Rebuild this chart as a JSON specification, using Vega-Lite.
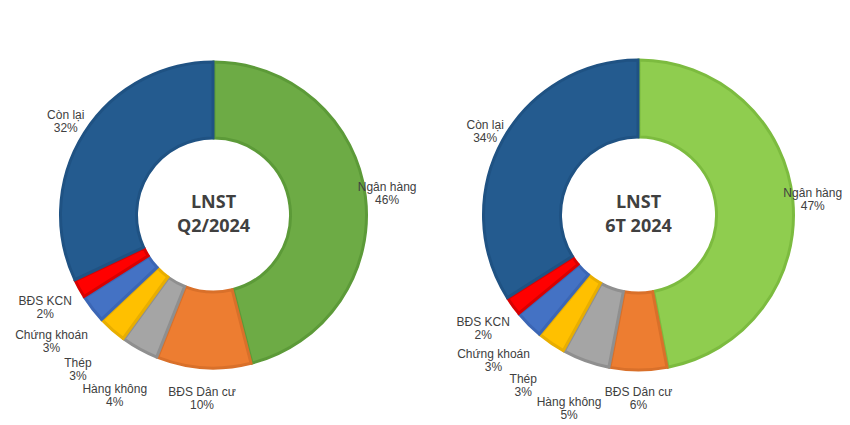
{
  "$schema": "https://vega.github.io/schema/vega-lite/v6.json",
  "padding": {"left": 1, "top": 7, "right": 0, "bottom": 0},
  "background": "white",
  "spacing": 0,
  "bounds": "flush",
  "config": {"view": {"stroke": null}},
  "resolve": {"scale": {"color": "independent", "stroke": "independent", "theta": "independent"}},
  "datasets": {
    "shares": [
      {"period": "Q2/2024", "idx": 1, "sector": "Ngân hàng", "value": 46},
      {"period": "Q2/2024", "idx": 2, "sector": "BĐS Dân cư", "value": 10},
      {"period": "Q2/2024", "idx": 3, "sector": "Hàng không", "value": 4},
      {"period": "Q2/2024", "idx": 4, "sector": "Thép", "value": 3},
      {"period": "Q2/2024", "idx": 5, "sector": "Chứng khoán", "value": 3},
      {"period": "Q2/2024", "idx": 6, "sector": "BĐS KCN", "value": 2},
      {"period": "Q2/2024", "idx": 7, "sector": "Còn lại", "value": 32},
      {"period": "6T 2024", "idx": 1, "sector": "Ngân hàng", "value": 47},
      {"period": "6T 2024", "idx": 2, "sector": "BĐS Dân cư", "value": 6},
      {"period": "6T 2024", "idx": 3, "sector": "Hàng không", "value": 5},
      {"period": "6T 2024", "idx": 4, "sector": "Thép", "value": 3},
      {"period": "6T 2024", "idx": 5, "sector": "Chứng khoán", "value": 3},
      {"period": "6T 2024", "idx": 6, "sector": "BĐS KCN", "value": 2},
      {"period": "6T 2024", "idx": 7, "sector": "Còn lại", "value": 34}
    ]
  },
  "hconcat": [
    {
      "width": 425,
      "height": 416,
      "data": {"name": "shares"},
      "transform": [
        {"filter": "datum.period === 'Q2/2024'"},
        {"calculate": "[datum.sector, datum.value + '%']", "as": "lbl"}
      ],
      "layer": [
        {
          "mark": {"type": "arc", "radius": 153, "innerRadius": 77, "strokeWidth": 3, "padAngle": 0.006},
          "encoding": {
            "theta": {"field": "value", "type": "quantitative", "stack": true},
            "order": {"field": "idx", "type": "quantitative"},
            "color": {"field": "sector", "type": "nominal", "legend": null,
              "scale": {"domain": ["Ngân hàng", "BĐS Dân cư", "Hàng không", "Thép", "Chứng khoán", "BĐS KCN", "Còn lại"],
                        "range": ["#6DAB45", "#ED7D31", "#A5A5A5", "#FFC000", "#4472C4", "#FF0000", "#245B8F"]}},
            "stroke": {"field": "sector", "type": "nominal", "legend": null,
              "scale": {"domain": ["Ngân hàng", "BĐS Dân cư", "Hàng không", "Thép", "Chứng khoán", "BĐS KCN", "Còn lại"],
                        "range": ["#5C9A38", "#D9702A", "#8F8F8F", "#E8AE00", "#3B66B5", "#D80000", "#1F5283"]}}
          }
        },
        {
          "mark": {"type": "text", "radius": {"expr": "datum.value >= 20 ? 175 : datum.value >= 6 ? 183 : datum.value <= 2 ? 192 : 205"}, "fontSize": 12, "font": "Liberation Sans", "color": "#404040", "lineHeight": 13, "dy": -6},
          "encoding": {
            "theta": {"field": "value", "type": "quantitative", "stack": true},
            "order": {"field": "idx", "type": "quantitative"},
            "text": {"field": "lbl"}
          }
        },
        {
          "data": {"values": [{"t": "LNST\nQ2/2024"}]},
          "mark": {"type": "text", "fontSize": 18, "font": "Open Sans", "fontWeight": "bold", "color": "#404040", "lineBreak": "\n", "lineHeight": 24, "baseline": "middle", "dy": -12},
          "encoding": {"text": {"field": "t"}}
        }
      ]
    },
    {
      "width": 425,
      "height": 416,
      "data": {"name": "shares"},
      "transform": [
        {"filter": "datum.period === '6T 2024'"},
        {"calculate": "[datum.sector, datum.value + '%']", "as": "lbl"}
      ],
      "layer": [
        {
          "mark": {"type": "arc", "radius": 155, "innerRadius": 78, "strokeWidth": 3, "padAngle": 0.006},
          "encoding": {
            "theta": {"field": "value", "type": "quantitative", "stack": true},
            "order": {"field": "idx", "type": "quantitative"},
            "color": {"field": "sector", "type": "nominal", "legend": null,
              "scale": {"domain": ["Ngân hàng", "BĐS Dân cư", "Hàng không", "Thép", "Chứng khoán", "BĐS KCN", "Còn lại"],
                        "range": ["#8FCD4F", "#ED7D31", "#A5A5A5", "#FFC000", "#4472C4", "#FF0000", "#245B8F"]}},
            "stroke": {"field": "sector", "type": "nominal", "legend": null,
              "scale": {"domain": ["Ngân hàng", "BĐS Dân cư", "Hàng không", "Thép", "Chứng khoán", "BĐS KCN", "Còn lại"],
                        "range": ["#7CBB3F", "#D9702A", "#8F8F8F", "#E8AE00", "#3B66B5", "#D80000", "#1F5283"]}}
          }
        },
        {
          "mark": {"type": "text", "radius": {"expr": "datum.value >= 20 ? 175 : datum.value >= 6 ? 183 : datum.value <= 2 ? 192 : 205"}, "fontSize": 12, "font": "Liberation Sans", "color": "#404040", "lineHeight": 13, "dy": -6},
          "encoding": {
            "theta": {"field": "value", "type": "quantitative", "stack": true},
            "order": {"field": "idx", "type": "quantitative"},
            "text": {"field": "lbl"}
          }
        },
        {
          "data": {"values": [{"t": "LNST\n6T 2024"}]},
          "mark": {"type": "text", "fontSize": 18, "font": "Open Sans", "fontWeight": "bold", "color": "#404040", "lineBreak": "\n", "lineHeight": 24, "baseline": "middle", "dy": -12},
          "encoding": {"text": {"field": "t"}}
        }
      ]
    }
  ]
}
